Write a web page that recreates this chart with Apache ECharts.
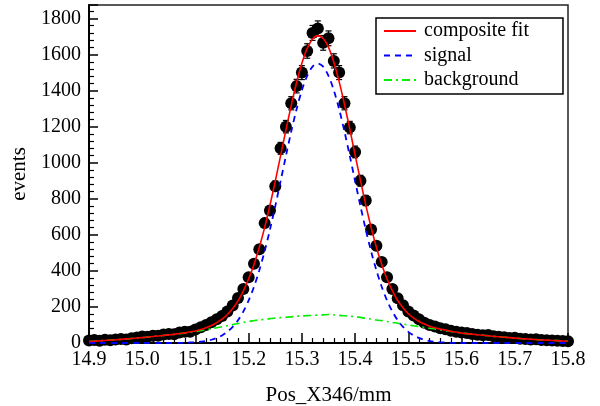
<!DOCTYPE html>
<html>
<head>
<meta charset="utf-8">
<script src="https://cdn.jsdelivr.net/npm/echarts@6/dist/echarts.min.js"></script>
<style>
html,body{margin:0;padding:0;background:#fff;}
#chart{width:600px;height:406px;}
</style>
</head>
<body>
<div id="chart"></div>
<script>
// Bin positions: 14.90 .. 15.80, step 0.01
const binStart = 14.90;
const binStep = 0.01;

// Measured events per bin
const counts = [
  14,16,12,18,15,20,22,20,27,30,
  36,34,40,40,47,50,49,58,62,62,
  75,88,100,115,132,150,175,208,250,300,
  365,440,520,665,735,870,1080,1200,1330,1425,
  1500,1620,1720,1745,1665,1690,1565,1500,1330,1195,
  1060,900,790,630,540,450,365,300,248,210,
  175,152,132,112,100,92,82,76,68,62,
  58,55,50,46,43,44,38,34,32,28,
  29,24,22,20,21,17,15,14,12,11,
  10
];

// Composite fit curve
const fitComposite = [
  8,10,12,14,16,18,20,23,25,28,
  30,33,36,39,42,45,48,53,56,62,
  67,75,85,97,113,132,158,192,234,289,
  356,436,531,640,764,898,1039,1181,1318,1445,
  1552,1634,1686,1705,1689,1640,1558,1450,1324,1186,
  1044,902,766,642,531,436,355,289,236,195,
  162,138,119,105,93,85,77,72,65,61,
  55,52,49,46,43,40,37,35,32,30,
  27,25,23,21,19,17,16,14,13,11,
  10
];

// Signal component
const fitSignal = [
  0,0,0,0,0,0,0,0,0,0,
  0,0,0,0,0,0,0,1,1,3,
  4,7,11,18,28,42,62,90,126,175,
  236,312,403,509,629,760,898,1038,1173,1297,
  1402,1482,1533,1550,1533,1482,1402,1297,1173,1038,
  898,760,629,509,403,312,236,175,126,90,
  62,42,28,18,11,7,4,3,1,1,
  0,0,0,0,0,0,0,0,0,0,
  0,0,0,0,0,0,0,0,0,0,
  0
];

// Background component
const fitBackground = [
  8,10,12,14,16,18,20,23,25,28,
  30,33,36,39,42,45,48,52,55,59,
  63,68,74,79,85,90,96,102,108,114,
  120,124,128,131,135,138,141,143,145,148,
  150,152,153,155,156,158,156,153,151,148,
  146,142,137,133,128,124,119,114,110,105,
  100,96,91,87,82,78,73,69,64,60,
  55,52,49,46,43,40,37,35,32,30,
  27,25,23,21,19,17,16,14,13,11,
  10
];

const seriesNames = ['composite fit', 'signal', 'background'];

function xAt(i){ return +(binStart + i*binStep).toFixed(2); }
const pts = counts.map((v,i)=>[xAt(i), v]);
const comp = fitComposite.map((v,i)=>[xAt(i), v]);
const sig = fitSignal.map((v,i)=>[xAt(i), v]);
const bkg = fitBackground.map((v,i)=>[xAt(i), v]);

const FONT = 'Liberation Serif';
const chart = echarts.init(document.getElementById('chart'), null, {renderer:'canvas'});

chart.setOption({
  animation: false,
  backgroundColor: '#fff',
  grid: {left: 89, top: 5, right: 32, bottom: 63, containLabel: false, outerBoundsMode: 'none',
    show: true, borderColor: '#222', borderWidth: 1.5, backgroundColor: 'transparent'},
  legend: {
    data: seriesNames,
    orient: 'vertical',
    left: 376, top: 18,
    padding: [3, 34, 4, 7],
    itemGap: 4.5,
    itemWidth: 32, itemHeight: 14,
    borderColor: '#000', borderWidth: 1.5, borderRadius: 0,
    backgroundColor: '#fff',
    itemStyle: {opacity: 0},
    textStyle: {fontFamily: FONT, fontSize: 20, lineHeight: 20, color: '#000', padding: [0, 0, 0, 3]}
  },
  xAxis: {
    type: 'value', min: 14.9, max: 15.8, interval: 0.1,
    name: 'Pos_X346/mm', nameLocation: 'middle', nameGap: 42,
    nameTextStyle: {fontFamily: FONT, fontSize: 21, color: '#000'},
    axisLine: {onZero: false, lineStyle: {color: '#000', width: 2}},
    axisTick: {inside: true, length: 10, lineStyle: {color: '#000', width: 1.5}},
    minorTick: {show: true, splitNumber: 5, length: 5, lineStyle: {color: '#000', width: 1.2}},
    splitLine: {show: false},
    axisLabel: {fontFamily: FONT, fontSize: 20, color: '#000', margin: 7,
      formatter: v => v.toFixed(1)}
  },
  yAxis: {
    type: 'value', min: 0, max: 1875, interval: 200,
    name: 'events', nameLocation: 'middle', nameGap: 58,
    nameTextStyle: {fontFamily: FONT, fontSize: 21, color: '#000'},
    axisLine: {onZero: false, lineStyle: {color: '#000', width: 2}},
    axisTick: {inside: true, length: 9, lineStyle: {color: '#000', width: 1.5}},
    minorTick: {show: true, splitNumber: 5, length: 5, lineStyle: {color: '#000', width: 1.2}},
    splitLine: {show: false},
    axisLabel: {fontFamily: FONT, fontSize: 20, color: '#000', margin: 8, showMaxLabel: false,
      formatter: v => String(v)}
  },
  series: [
    {
      type: 'custom', name: 'err', silent: true, z: 2,
      renderItem: function(params, api){
        const x = api.value(0), y = api.value(1);
        const e = Math.sqrt(y);
        const top = api.coord([x, y + e]);
        const bot = api.coord([x, Math.max(0, y - e)]);
        const cw = 3;
        return {type: 'group', children: [
          {type:'line', shape:{x1:top[0], y1:top[1], x2:bot[0], y2:bot[1]}, style:{stroke:'#000', lineWidth:1.2}},
          {type:'line', shape:{x1:top[0]-cw, y1:top[1], x2:top[0]+cw, y2:top[1]}, style:{stroke:'#000', lineWidth:1.2}},
          {type:'line', shape:{x1:bot[0]-cw, y1:bot[1], x2:bot[0]+cw, y2:bot[1]}, style:{stroke:'#000', lineWidth:1.2}}
        ]};
      },
      data: pts
    },
    {
      type: 'scatter', name: 'data', z: 3,
      symbol: 'circle', symbolSize: 12,
      itemStyle: {color: '#000', opacity: 1},
      data: pts
    },
    {
      type: 'line', name: 'background', z: 4, smooth: 0.3,
      symbol: 'none', showSymbol: false,
      lineStyle: {color: '#00ee00', width: 1.6, type: [8, 4, 2, 4]},
      itemStyle: {color: '#00ee00'},
      data: bkg
    },
    {
      type: 'line', name: 'signal', z: 5, smooth: 0.3,
      symbol: 'none', showSymbol: false,
      lineStyle: {color: '#0000ff', width: 1.8, type: [6, 5]},
      itemStyle: {color: '#0000ff'},
      data: sig
    },
    {
      type: 'line', name: 'composite fit', z: 6, smooth: 0.3,
      symbol: 'none', showSymbol: false,
      lineStyle: {color: '#ff0000', width: 1.6},
      itemStyle: {color: '#ff0000'},
      data: comp
    }
  ]
});
</script>
</body>
</html>
